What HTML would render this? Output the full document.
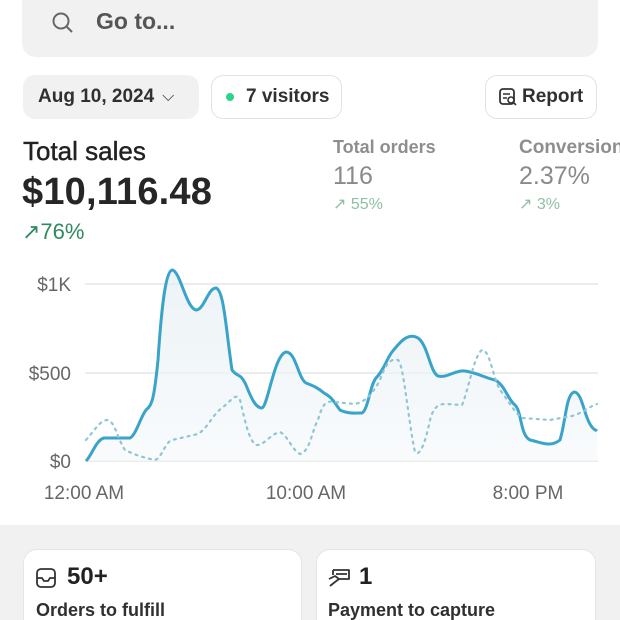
<!DOCTYPE html>
<html><head><style>
*{margin:0;padding:0;box-sizing:border-box}
html,body{width:620px;height:620px;overflow:hidden}
body{background:#fff;font-family:"Liberation Sans",sans-serif;position:relative;color:#222}
.abs{position:absolute}
.btn{position:absolute;border-radius:12px;height:44px;top:75px;font-size:19px;font-weight:bold;display:flex;align-items:center;color:#303030}
</style></head><body>
<div class="abs" style="left:22px;top:-10px;width:576px;height:67px;background:#f1f1f1;border-radius:14px"></div>
<svg class="abs" style="left:50px;top:10px" width="26" height="26" viewBox="0 0 26 26"><circle cx="11" cy="11" r="7.5" fill="none" stroke="#666" stroke-width="2"/><line x1="16.5" y1="16.5" x2="22" y2="22" stroke="#666" stroke-width="2"/></svg>
<div class="abs" style="left:96px;top:8px;font-size:23px;font-weight:bold;color:#555">Go to...</div>

<div class="btn" style="left:23px;width:176px;background:#f1f1f1;padding-left:15px">Aug 10, 2024 <span style="font-weight:normal;margin-left:8px;font-size:16px">⌵</span></div>
<div class="btn" style="left:211px;width:131px;border:1.5px solid #e3e3e3;padding-left:14px"><span style="width:8px;height:8px;border-radius:50%;background:#2bd48a;display:inline-block;margin-right:12px"></span>7 visitors</div>
<div class="btn" style="left:485px;width:112px;border:1.5px solid #e3e3e3;padding-left:12px"><svg width="20" height="20" viewBox="0 0 20 20" style="margin-right:4px"><rect x="2" y="2" width="14" height="15" rx="3" fill="none" stroke="#333" stroke-width="1.8"/><circle cx="13" cy="13" r="3" fill="#fff" stroke="#333" stroke-width="1.6"/><line x1="15" y1="15" x2="18" y2="18" stroke="#333" stroke-width="1.6"/><line x1="5" y1="7" x2="12" y2="7" stroke="#333" stroke-width="1.5"/><line x1="5" y1="11" x2="9" y2="11" stroke="#333" stroke-width="1.5"/></svg>Report</div>

<div class="abs" style="left:23px;top:136px;font-size:26px;color:#222;-webkit-text-stroke:0.4px #222">Total sales</div>
<div class="abs" style="left:22px;top:171px;font-size:38px;font-weight:bold;color:#262626;letter-spacing:0.2px">$10,116.48</div>
<div class="abs" style="left:22px;top:219px;font-size:22px;color:#2f8a5f">↗76%</div>
<div class="abs" style="left:333px;top:137px;font-size:18px;font-weight:bold;color:#8e8e8e">Total orders</div>
<div class="abs" style="left:333px;top:162px;font-size:25px;color:#8a8a8a">116</div>
<div class="abs" style="left:333px;top:194px;font-size:16px;color:#8fbfa3">↗ 55%</div>
<div class="abs" style="left:519px;top:137px;font-size:19px;font-weight:bold;color:#8e8e8e;white-space:nowrap">Conversion</div>
<div class="abs" style="left:519px;top:162px;font-size:25px;color:#8a8a8a">2.37%</div>
<div class="abs" style="left:519px;top:194px;font-size:16px;color:#8fbfa3">↗ 3%</div>

<svg class="abs" style="left:0;top:250px" width="620" height="260" viewBox="0 250 620 260">
<defs><linearGradient id="g" x1="0" y1="0" x2="0" y2="1"><stop offset="0" stop-color="#e4eef3"/><stop offset="1" stop-color="#f6f9fb"/></linearGradient></defs>
<g stroke="#e6e6e6" stroke-width="1.5"><line x1="85" y1="284" x2="598" y2="284"/><line x1="85" y1="373" x2="598" y2="373"/><line x1="85" y1="461" x2="598" y2="461"/></g>
<g font-size="19" fill="#666" font-family="Liberation Sans"><text x="71" y="291" text-anchor="end">$1K</text><text x="71" y="380" text-anchor="end">$500</text><text x="71" y="468" text-anchor="end">$0</text>
<text x="84" y="499" text-anchor="middle">12:00 AM</text><text x="306" y="499" text-anchor="middle">10:00 AM</text><text x="528" y="499" text-anchor="middle">8:00 PM</text></g>
<path d="M86,461 C92,455 96,440 104,438 L130,438 C136,435 140,418 146,410 C152,405 154,400 158,360 C162,300 166,272 172,270 C180,270 186,308 196,310 C204,310 208,288 216,288 C224,290 226,330 232,370 C238,378 240,372 246,385 C252,400 256,408 262,408 C268,406 274,355 286,352 C296,352 298,378 306,383 C314,386 318,388 324,393 C332,397 334,402 340,410 C348,414 356,413 362,413 C368,410 370,385 376,378 C384,370 386,360 392,352 C400,342 408,332 418,338 C428,345 430,372 438,376 C448,378 455,370 465,371 C478,373 485,378 495,380 C505,385 508,400 515,405 C522,412 520,435 530,440 C540,442 550,448 560,440 C566,420 566,395 574,392 C582,392 584,415 590,424 C593,430 596,430 597,431 L597,461 L86,461Z" fill="url(#g)" opacity="0.7"/>
<path d="M86,461 C92,455 96,440 104,438 L130,438 C136,435 140,418 146,410 C152,405 154,400 158,360 C162,300 166,272 172,270 C180,270 186,308 196,310 C204,310 208,288 216,288 C224,290 226,330 232,370 C238,378 240,372 246,385 C252,400 256,408 262,408 C268,406 274,355 286,352 C296,352 298,378 306,383 C314,386 318,388 324,393 C332,397 334,402 340,410 C348,414 356,413 362,413 C368,410 370,385 376,378 C384,370 386,360 392,352 C400,342 408,332 418,338 C428,345 430,372 438,376 C448,378 455,370 465,371 C478,373 485,378 495,380 C505,385 508,400 515,405 C522,412 520,435 530,440 C540,442 550,448 560,440 C566,420 566,395 574,392 C582,392 584,415 590,424 C593,430 596,430 597,431"
 fill="none" stroke="#3aa3c9" stroke-width="3" stroke-linejoin="round"/>
<path d="M86,440 C95,430 100,420 108,420 C115,422 118,440 125,450 C135,455 145,458 155,460 C162,458 165,442 172,440 L198,434 C208,428 212,415 222,408 C232,400 236,392 240,400 C244,415 248,440 256,445 C264,446 270,434 280,432 C288,436 292,450 300,454 C310,452 312,430 318,420 C322,405 326,400 334,402 L355,404 C365,402 372,395 380,380 C386,362 392,358 398,360 C404,365 408,420 415,452 C420,458 426,440 430,420 C434,405 440,404 446,404 L462,405 C468,392 474,355 482,350 C490,350 492,375 500,390 C508,400 514,412 522,418 L550,420 L572,416 C585,412 590,406 597,404"
 fill="none" stroke="#8fc6d6" stroke-width="2.2" stroke-dasharray="2 5" stroke-linecap="round"/>
</svg>

<div class="abs" style="left:0;top:525px;width:620px;height:95px;background:#f1f1f1"></div>
<div class="abs" style="left:23px;top:549px;width:279px;height:90px;background:#fff;border:1.5px solid #e5e5e5;border-radius:14px"></div>
<div class="abs" style="left:316px;top:549px;width:280px;height:90px;background:#fff;border:1.5px solid #e5e5e5;border-radius:14px"></div>
<svg class="abs" style="left:35px;top:567px" width="22" height="22" viewBox="0 0 22 22"><rect x="2" y="2" width="18" height="18" rx="4" fill="none" stroke="#333" stroke-width="1.8"/><path d="M2,11 H7 L9,14 H13 L15,11 H20" fill="none" stroke="#333" stroke-width="1.8"/></svg>
<div class="abs" style="left:67px;top:563px;font-size:24px;font-weight:bold;color:#222">50+</div>
<div class="abs" style="left:36px;top:600px;font-size:18px;font-weight:bold;color:#303030">Orders to fulfill</div>
<svg class="abs" style="left:327px;top:567px" width="26" height="22" viewBox="0 0 26 22"><path d="M6,3 H22 V12 H12 M6,3 V8 M9,7 H20 M2,12 L8,9 L12,12 L8,15 L3,19" fill="none" stroke="#333" stroke-width="1.8" stroke-linejoin="round"/></svg>
<div class="abs" style="left:359px;top:563px;font-size:24px;font-weight:bold;color:#222">1</div>
<div class="abs" style="left:328px;top:600px;font-size:18px;font-weight:bold;color:#303030">Payment to capture</div>
</body></html>
